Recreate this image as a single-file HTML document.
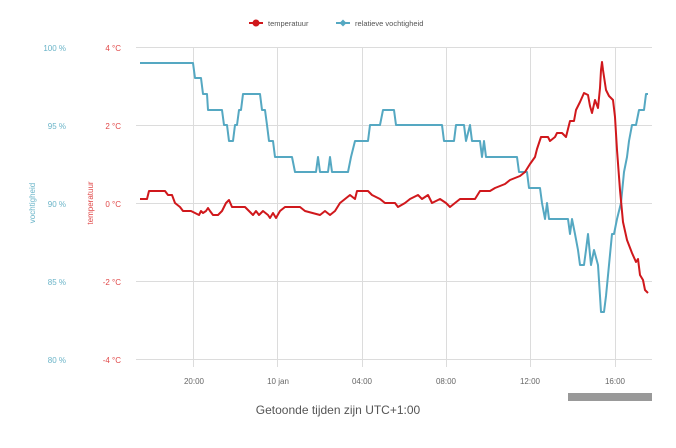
<!DOCTYPE html><html><head><meta charset="utf-8"><style>body{margin:0;background:#fff}svg{display:block}</style></head><body>
<svg width="676" height="448" viewBox="0 0 676 448" font-family="Liberation Sans, sans-serif">
<g stroke="#dcdcdc" stroke-width="1">
<line x1="136" y1="47.5" x2="652" y2="47.5"/><line x1="136" y1="125.5" x2="652" y2="125.5"/><line x1="136" y1="203.5" x2="652" y2="203.5"/><line x1="136" y1="281.5" x2="652" y2="281.5"/><line x1="136" y1="359.5" x2="652" y2="359.5"/>
<line x1="193.5" y1="47" x2="193.5" y2="367"/><line x1="277.5" y1="47" x2="277.5" y2="367"/><line x1="362.5" y1="47" x2="362.5" y2="367"/><line x1="446.5" y1="47" x2="446.5" y2="367"/><line x1="530.5" y1="47" x2="530.5" y2="367"/><line x1="615.5" y1="47" x2="615.5" y2="367"/>
</g>
<g font-size="8" fill="#6ab4c8" text-anchor="end"><text x="66" y="51">100 %</text><text x="66" y="129">95 %</text><text x="66" y="207">90 %</text><text x="66" y="285">85 %</text><text x="66" y="363">80 %</text></g>
<g font-size="8" fill="#e04848" text-anchor="end"><text x="121" y="51">4 °C</text><text x="121" y="129">2 °C</text><text x="121" y="207">0 °C</text><text x="121" y="285">-2 °C</text><text x="121" y="363">-4 °C</text></g>
<text transform="translate(35,203) rotate(-90)" font-size="8" fill="#6ab4c8" text-anchor="middle">vochtigheid</text>
<text transform="translate(93,203) rotate(-90)" font-size="8" fill="#e04848" text-anchor="middle">temperatuur</text>
<g font-size="8" fill="#666" text-anchor="middle"><text x="194" y="384">20:00</text><text x="278" y="384">10 jan</text><text x="362" y="384">04:00</text><text x="446" y="384">08:00</text><text x="530" y="384">12:00</text><text x="615" y="384">16:00</text></g>
<rect x="568" y="393" width="84" height="8" fill="#999"/>
<text x="338" y="414" font-size="12" fill="#555" text-anchor="middle">Getoonde tijden zijn UTC+1:00</text>
<line x1="249" y1="23" x2="263" y2="23" stroke="#d0181c" stroke-width="2"/><circle cx="256" cy="23" r="3.5" fill="#d0181c"/>
<text x="268" y="26" font-size="7.5" fill="#555">temperatuur</text>
<line x1="336" y1="23" x2="350" y2="23" stroke="#55a8c2" stroke-width="2"/><path d="M343 19.5 L346.5 23 L343 26.5 L339.5 23Z" fill="#55a8c2"/>
<text x="355" y="26" font-size="7.5" fill="#555">relatieve vochtigheid</text>
<polyline fill="none" stroke="#55a8c2" stroke-width="2" stroke-linejoin="round" points="140,63 193,63 195,78 201,78 203,94 207,94 208,110 222,110 224,125 227,125 229,141 233,141 235,125 237,125 239,110 241,110 243,94 260,94 262,110 265,110 267,125 269,141 273,141 275,157 292,157 295,172 316,172 318,157 320,172 328,172 330,157 332,172 348,172 351,157 355,141 368,141 370,125 380,125 383,110 394,110 396,125 442,125 444,141 454,141 456,125 464,125 466,141 470,125 472,141 480,141 482,157 484,141 486,157 517,157 519,172 527,172 529,188 540,188 542,203 545,219 547,203 549,219 568,219 570,234 572,219 575,234 578,250 580,265 584,265 586,250 588,234 591,265 594,250 598,265 600,296 601,312 604,312 606,296 609,265 612,234 614,234 617,219 621,203 624,172 627,157 629,141 632,125 636,125 639,110 644,110 646,94 648,94"/>
<polyline fill="none" stroke="#d0181c" stroke-width="2" stroke-linejoin="round" points="140,199 147,199 149,191 165,191 168,195 172,195 175,203 180,207 183,211 191,211 199,215 201,211 203,213 206,211 208,208 210,211 213,215 218,215 222,211 226,203 229,200 232,207 245,207 249,211 253,215 256,211 259,215 263,211 268,215 270,218 273,213 276,218 280,211 285,207 300,207 305,211 320,215 325,211 330,215 335,211 340,203 345,199 350,195 355,199 357,191 368,191 372,195 380,199 385,203 395,203 398,207 405,203 410,199 418,195 422,199 428,195 432,203 440,199 446,203 450,207 455,203 460,199 475,199 480,191 490,191 495,188 505,184 510,180 520,176 525,172 530,164 535,157 537,149 541,137 548,137 550,141 555,137 557,133 562,133 566,137 568,129 570,121 574,121 576,110 580,102 584,93 588,95 590,106 592,113 595,100 598,108 600,88 601,70 602,62 603,70 606,90 609,96 613,100 615,117 617,150 620,190 623,222 627,240 632,253 636,262 638,259 640,275 643,280 645,290 648,293"/>
</svg></body></html>
